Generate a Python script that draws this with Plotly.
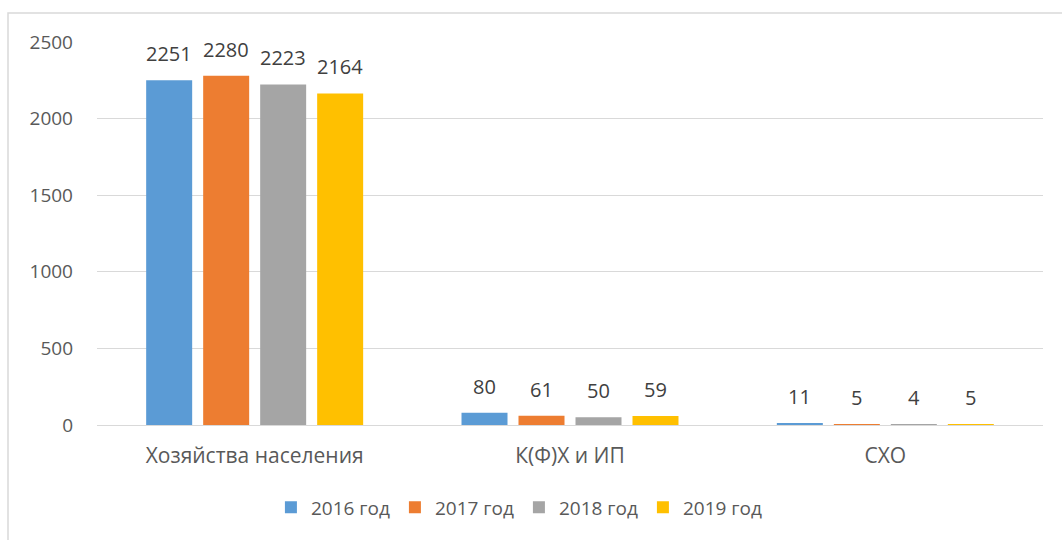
import plotly.graph_objects as go

categories = ["Хозяйства населения", "К(Ф)Х и ИП", "СХО"]
series_names = ["2016 год", "2017 год", "2018 год", "2019 год"]
values_2016 = [2251, 80, 11]
values_2017 = [2280, 61, 5]
values_2018 = [2223, 50, 4]
values_2019 = [2164, 59, 5]
colors = ["#5B9BD5", "#ED7D31", "#A5A5A5", "#FFC000"]
y_ticks = [0, 500, 1000, 1500, 2000, 2500]

all_values = [values_2016, values_2017, values_2018, values_2019]

font_family = "Open Sans, Liberation Sans, Arial, sans-serif"

W, H = 1062, 540
ml, mr, mt, mb = 97, 19, 42, 115
pw = W - ml - mr
ph = H - mt - mb
bargap = 0.277
bargroupgap = 0.193
slot_px = pw / len(categories) * (1 - bargap) / len(series_names)

fig = go.Figure()
annotations = []
for i, (name, vals, col) in enumerate(zip(series_names, all_values, colors)):
    fig.add_trace(go.Bar(
        name=name, x=categories, y=vals,
        marker=dict(color=col, line=dict(width=0)),
    ))
    for cat, v in zip(categories, vals):
        annotations.append(dict(
            x=cat, y=v, xref="x", yref="y", text=str(v), showarrow=False,
            xanchor="center", yanchor="bottom",
            xshift=(i - (len(series_names) - 1) / 2) * slot_px, yshift=11,
            font=dict(size=20, color="#404040", family=font_family),
        ))

fig.update_layout(
    width=W, height=H,
    margin=dict(l=ml, r=mr, t=mt, b=mb, pad=0, autoexpand=False),
    paper_bgcolor="white", plot_bgcolor="white",
    barmode="group", bargap=bargap, bargroupgap=bargroupgap,
    font=dict(family=font_family, size=18, color="#595959"),
    showlegend=True,
    legend=dict(orientation="h", x=0.446, xanchor="center", y=-0.215, yanchor="middle",
                font=dict(size=19, color="#595959"), traceorder="normal",
                itemwidth=30, entrywidthmode="pixels", entrywidth=79),
    xaxis=dict(showgrid=False, showline=True, linecolor="#D9D9D9", linewidth=1,
               ticks="", tickfont=dict(size=21, color="#595959"), ticklabelstandoff=12,
               automargin=False),
    yaxis=dict(range=[0, 2500], tickvals=y_ticks, showgrid=True, gridcolor="#D9D9D9",
               gridwidth=1, zeroline=False, showline=False, ticks="",
               tickfont=dict(size=19, color="#595959"), ticklabelstandoff=23,
               automargin=False),
    annotations=annotations,
    shapes=[dict(type="rect", xref="paper", yref="paper",
                 x0=(8 - ml) / pw, x1=(1070 - ml) / pw,
                 y0=-(H + 10 - mt - ph) / ph, y1=1 + (mt - 13) / ph,
                 line=dict(color="#D9D9D9", width=1.5), fillcolor="rgba(0,0,0,0)", layer="below")],
)

fig.write_html("out.html", config={"displayModeBar": False},
               post_script="document.body.style.margin='0';document.body.style.overflow='hidden';")
